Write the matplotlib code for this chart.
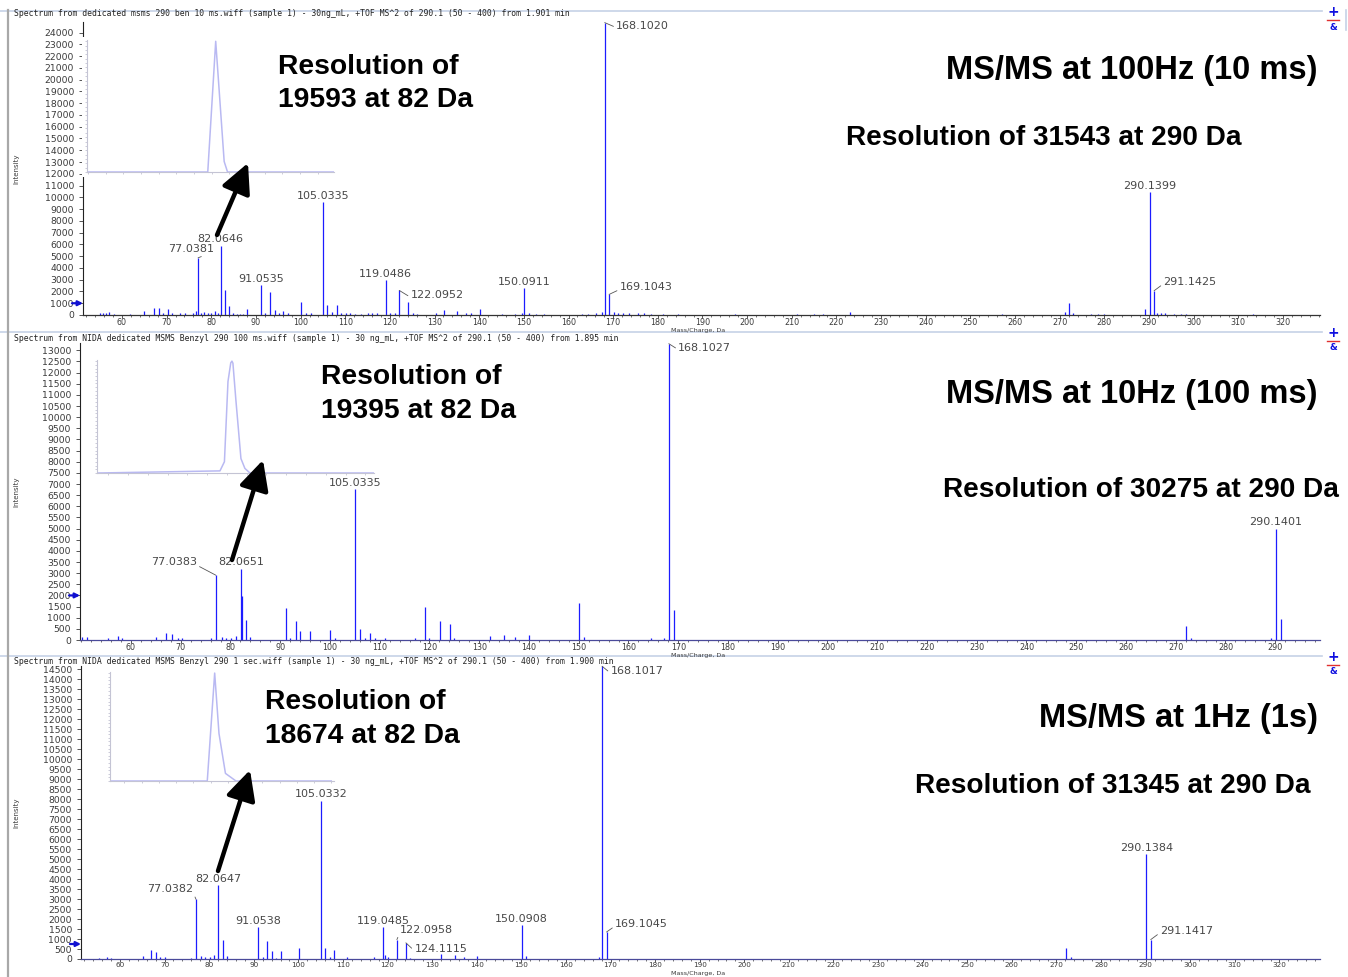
import matplotlib
matplotlib.use("Agg")
import numpy as np
import matplotlib.pyplot as plt
from matplotlib.lines import Line2D
from matplotlib.patches import Rectangle, FancyArrowPatch
from matplotlib.ticker import MultipleLocator

# ---- MS/MS at 100 Hz (10 ms) : m/z and intensity of each stick ----
mz_100hz = [51.0, 55.1, 55.8, 56.5, 57.1, 58.2, 61.8, 65.0, 67.1, 68.2, 69.1, 70.3, 71.1,
            73.1, 74.2, 75.8, 76.5, 77.0381, 77.7, 78.4, 79.3, 79.9, 80.9, 81.4, 82.0646,
            83.07, 84.07, 84.8, 85.8, 86.5, 87.1, 88.1, 91.0535, 92.0, 93.07, 94.2, 95.1,
            96.1, 97.1, 100.1, 101.2, 102.3, 105.0335, 106.0, 107.0, 108.1, 109.0, 110.1,
            111.0, 112.1, 113.5, 115.0, 116.1, 117.1, 119.0486, 120.0, 121.1, 122.0952,
            124.1, 125.1, 126.1, 130.4, 132.1, 135.0, 137.1, 138.1, 140.1, 145.1, 148.1,
            149.6, 150.0911, 151.1, 152.8, 154.5, 163.1, 164.4, 166.2, 167.5, 168.1020,
            169.1043, 170.1, 171.1, 172.1, 173.5, 175.5, 177.0, 178.4, 181.2, 184.5, 197.2,
            211.2, 214.9, 217.1, 223.1, 257.0, 271.3, 272.1, 272.9, 277.0, 278.5, 280.0,
            289.2, 290.1399, 291.1425, 291.8, 292.6, 293.5, 295.7, 297.1, 298.4, 313.3]
int_100hz = [300, 150, 150, 180, 280, 120, 120, 300, 560, 560, 200, 500, 150,
             200, 150, 200, 300, 4860, 200, 280, 200, 150, 300, 200, 5850,
             2090, 760, 150, 120, 120, 120, 480, 2540, 200, 1950, 400, 200,
             300, 200, 1100, 200, 200, 9580, 820, 280, 820, 200, 150,
             150, 120, 120, 150, 150, 200, 2940, 200, 200, 2090,
             1130, 150, 120, 200, 400, 340, 200, 200, 510, 120, 120,
             200, 2320, 200, 120, 120, 120, 120, 200, 280, 24850,
             1750, 250, 200, 200, 150, 150, 150, 120, 120, 120, 120,
             120, 100, 100, 230, 120, 280, 990, 200, 120, 120, 120,
             480, 10450, 2060, 200, 200, 150, 120, 120, 120, 120]
labels_100hz = [77.0381, 82.0646, 91.0535, 105.0335, 119.0486, 122.0952, 150.0911,
                168.1020, 169.1043, 290.1399, 291.1425]

# ---- MS/MS at 10 Hz (100 ms) ----
mz_10hz = [50.2, 51.1, 55.3, 57.3, 58.1, 65.1, 67.1, 68.2, 69.4, 70.2, 76.1, 77.0383,
           78.2, 79.1, 80.2, 81.2, 82.0651, 82.25, 83.07, 84.0, 91.06, 92.0, 93.07, 94.07,
           96.0, 100.1, 101.1, 105.0335, 106.04, 107.0, 108.05, 109.0, 111.0, 117.0,
           119.05, 120.0, 122.1, 124.1, 125.0, 132.1, 135.0, 137.1, 140.1, 150.09, 151.1,
           164.5, 167.2, 168.1027, 169.1, 272.1, 273.0, 289.1, 290.1401, 291.14]
int_10hz = [120, 120, 80, 180, 80, 130, 330, 280, 100, 80, 80, 2910,
            130, 80, 80, 180, 3180, 1990, 900, 150, 1420, 80, 850, 420,
            400, 460, 80, 6790, 490, 100, 300, 80, 100, 80,
            1460, 80, 850, 700, 80, 180, 240, 150, 220, 1670, 130,
            80, 100, 13300, 1340, 630, 80, 100, 4970, 940]
labels_10hz = [77.0383, 82.0651, 105.0335, 168.1027, 290.1401]

# ---- MS/MS at 1 Hz (1 s) ----
mz_1hz = [55.4, 57.1, 58.0, 65.1, 67.0, 68.0, 69.0, 70.1, 76.0, 77.0382, 78.1, 79.1,
          80.1, 81.1, 82.0647, 83.07, 84.1, 91.0538, 92.0, 93.07, 94.07, 95.0, 96.05,
          100.1, 105.0332, 106.04, 107.0, 108.05, 111.0, 117.0, 119.0485, 119.4, 120.0,
          122.0958, 124.1115, 125.0, 132.1, 135.1, 137.1, 140.1, 150.0908, 151.1, 167.4,
          168.1017, 169.1045, 272.1, 273.2, 290.1384, 291.1417]
int_1hz = [70, 100, 60, 160, 440, 350, 80, 80, 60, 2990, 150, 80,
           80, 200, 3680, 940, 150, 1600, 80, 890, 390, 60, 390,
           560, 7930, 560, 100, 460, 80, 80, 1600, 200, 100,
           970, 810, 60, 230, 200, 100, 150, 1710, 150, 80,
           14650, 1350, 560, 80, 5260, 970]
labels_1hz = [77.0382, 82.0647, 91.0538, 105.0332, 119.0485, 122.0958, 124.1115,
              150.0908, 168.1017, 169.1045, 290.1384, 291.1417]

# ---- profiles of the 82 Da peak shown in the insets ----
zoom_mz_100hz = [81.92, 82.0556, 82.0646, 82.0742, 82.0780, 82.20]
zoom_int_100hz = [0, 0, 5850, 470, 0, 0]
zoom_mz_10hz = [81.93, 82.0530, 82.0575, 82.0611, 82.0639, 82.0651, 82.0661, 82.0691,
                82.0742, 82.0782, 82.0833, 82.21]
zoom_int_10hz = [0, 60, 320, 2600, 3130, 3180, 3120, 2070, 410, 130, 0, 0]
zoom_mz_1hz = [81.945, 82.0561, 82.0647, 82.0697, 82.0772, 82.0894, 82.20]
zoom_int_1hz = [0, 0, 3680, 1620, 260, 0, 0]

headers = [
    "Spectrum from dedicated msms 290 ben 10 ms.wiff (sample 1) - 30ng_mL, +TOF MS^2 of 290.1 (50 - 400) from 1.901 min",
    "Spectrum from NIDA dedicated MSMS Benzyl 290 100 ms.wiff (sample 1) - 30 ng_mL, +TOF MS^2 of 290.1 (50 - 400) from 1.895 min",
    "Spectrum from NIDA dedicated MSMS Benzyl 290 1 sec.wiff (sample 1) - 30 ng_mL, +TOF MS^2 of 290.1 (50 - 400) from 1.900 min",
]
titles = ["MS/MS at 100Hz (10 ms)", "MS/MS at 10Hz (100 ms)", "MS/MS at 1Hz (1s)"]
res_82 = ["19593", "19395", "18674"]
res_290 = ["31543", "30275", "31345"]

# label placement per panel: (dx px, dy px, leader line)
label_pos = [
    {"77.0381": (-7, 4, True), "82.0646": (0, 2, False), "91.0535": (0, 1, False),
     "105.0335": (0, 1, False), "119.0486": (0, 1, False), "122.0952": (38, -10, True),
     "150.0911": (0, 1, False), "168.1020": (38, -8, True), "169.1043": (37, 2, True),
     "290.1399": (0, 1, False), "291.1425": (36, 4, True)},
    {"77.0383": (-42, 8, True), "82.0651": (0, 2, False), "105.0335": (0, 1, False),
     "168.1027": (36, -9, True), "290.1401": (0, 2, False)},
    {"77.0382": (-26, 5, True), "82.0647": (0, 1, False), "91.0538": (0, 1, False),
     "105.0332": (0, 2, False), "119.0485": (0, 1, False), "122.0958": (30, 5, True),
     "124.1115": (35, -11, True), "150.0908": (0, 1, False), "168.1017": (35, -10, True),
     "169.1045": (35, 3, True), "290.1384": (0, 1, False), "291.1417": (36, 4, True)},
]

W, H = 1348, 977
BLUE = "#1c1cff"
INK = "#3a3a3a"


def fx(x):
    return x / W


def fy(y):
    return 1 - y / H


def ftext(x, y, s, **kw):
    return fig.text(fx(x), fy(y), s, **kw)


def box(left, top, right, bottom):
    return [fx(left), fy(bottom), (right - left) / W, (bottom - top) / H]


fig = plt.figure(figsize=(W / 100, H / 100), dpi=100)
fig.patch.set_facecolor("white")

panels = [
    dict(mz=mz_100hz, it=int_100hz, lab=labels_100hz, frame=(83, 22, 1320, 315),
         xlim=(51.27, 328.3), ymax=24900, ystep=1000, ytop=24000, xtop=320, xl_y=331, xfs=5.8,
         zmz=zoom_mz_100hz, zit=zoom_int_100hz, ibox=(87, 40, 334, 172), ixlim=(81.9187, 82.1987),
         arrow=((217, 235), (248, 163)), lx=278, lb=(74, 107),
         tb=79, rx=846, rb=145, head_y=14, blue_mark=1000, bottom_col="#333333", top_y=11),
    dict(mz=mz_10hz, it=int_10hz, lab=labels_10hz, frame=(80, 343, 1320, 640),
         xlim=(49.75, 299.0), ymax=13330, ystep=500, ytop=13000, xtop=290, xl_y=656, xfs=5.8,
         zmz=zoom_mz_10hz, zit=zoom_int_10hz, ibox=(97, 360, 374, 473), ixlim=(81.9287, 82.2087),
         arrow=((232, 560), (263, 460)), lx=321, lb=(384, 418),
         tb=403, rx=943, rb=497, head_y=338, blue_mark=2000, bottom_col="#4a4a9a", top_y=332),
    dict(mz=mz_1hz, it=int_1hz, lab=labels_1hz, frame=(81, 666, 1320, 959),
         xlim=(51.26, 329.1), ymax=14660, ystep=500, ytop=14500, xtop=320, xl_y=973.5, xfs=5.2,
         zmz=zoom_mz_1hz, zit=zoom_int_1hz, ibox=(110, 672, 334, 781), ixlim=(81.9432, 82.2032),
         arrow=((218, 871), (250, 770)), lx=265, lb=(709, 743),
         tb=727, rx=915, rb=793, head_y=661, blue_mark=750, bottom_col="#4a4a9a", top_y=656),
]

for k, p in enumerate(panels):
    l, t, r, b = p["frame"]
    ax = fig.add_axes(box(l, t, r, b))
    ax.vlines(p["mz"], 0, p["it"], color=BLUE, lw=0.9)
    ax.set_xlim(*p["xlim"])
    ax.set_ylim(0, p["ymax"])
    ax.set_xticks(np.arange(60, p["xtop"] + 1, 10))
    ax.xaxis.set_minor_locator(MultipleLocator(2))
    ax.set_yticks(np.arange(0, p["ytop"] + 1, p["ystep"]))
    for side in ["top", "right"]:
        ax.spines[side].set_visible(False)
    ax.spines["left"].set_color("#222222")
    ax.spines["left"].set_linewidth(0.8)
    ax.spines["bottom"].set_color(p["bottom_col"])
    ax.spines["bottom"].set_linewidth(0.9)
    ax.tick_params(axis="y", direction="out", length=3, width=0.6, colors=INK,
                   pad=3.5, labelsize=6.7)
    ax.tick_params(axis="x", direction="out", length=2, width=0.6, colors=INK,
                   pad=0.3, labelsize=p["xfs"])
    ax.tick_params(axis="x", which="minor", length=1.3, width=0.5, colors=INK)
    ax.set_ylabel("Intensity", fontsize=5, color=INK)
    ax.yaxis.set_label_coords((19 - l) / (r - l), 0.5)
    ax.patch.set_alpha(0)

    peaks = dict(zip(p["mz"], p["it"]))
    for m in p["lab"]:
        txt = f"{m:.4f}"
        dx, dy, lead = label_pos[k][txt]
        kw = {}
        if lead:
            kw["arrowprops"] = dict(arrowstyle="-", color="#555555", lw=0.6, shrinkA=0, shrinkB=0,
                                    relpos=(0, 0.3) if dx > 0 else (1, 0.2))
        ax.annotate(txt, xy=(m, peaks[m]), xytext=(dx, dy), textcoords="offset pixels",
                    ha="center", va="bottom", fontsize=8, color="#484848", **kw)

    # small blue marker on the intensity axis
    ax.annotate("", xy=(0, p["blue_mark"]), xycoords=("axes fraction", "data"),
                xytext=(-11, 0), textcoords="offset pixels",
                arrowprops=dict(arrowstyle="-|>", color="#1010d0", lw=1.6, mutation_scale=7,
                                shrinkA=0, shrinkB=0))

    ftext(698, p["xl_y"], "Mass/Charge, Da", fontsize=4.6, color=INK, ha="center", va="center")
    ftext(14, p["head_y"], headers[k], fontsize=5.9, fontfamily="DejaVu Sans Mono",
          color="#222222", ha="left", va="center")

    # inset with the zoomed 82 Da peak
    il, itp, ir, ib = p["ibox"]
    if k == 0:
        fig.add_artist(Rectangle((fx(81.5), fy(ib + 5)), 6 / W, (ib + 5 - itp + 3) / H,
                                 transform=fig.transFigure, facecolor="white",
                                 edgecolor="none", zorder=1))
    iax = fig.add_axes(box(il, itp, ir, ib), zorder=2)
    iax.plot(p["zmz"], p["zit"], color="#b9b9f2", lw=1.1)
    iax.set_xlim(*p["ixlim"])
    apex = max(p["zit"])
    iax.set_ylim(0, apex * 1.01)
    iax.xaxis.set_major_locator(MultipleLocator(0.02))
    iax.yaxis.set_major_locator(MultipleLocator(apex / 30))
    iax.set_xticklabels([])
    iax.set_yticklabels([])
    for side in ["top", "right"]:
        iax.spines[side].set_visible(False)
    for side in ["left", "bottom"]:
        iax.spines[side].set_color("#c4c4d4")
        iax.spines[side].set_linewidth(0.8)
    iax.tick_params(axis="both", direction="out", length=1.5, width=0.6, colors="#c4c4d4")
    iax.set_facecolor("white")

    # black arrow from the 82 Da peak up to the inset
    (tx, ty), (hx, hy) = p["arrow"]
    fig.add_artist(FancyArrowPatch(
        (fx(tx), fy(ty)), (fx(hx), fy(hy)), transform=fig.transFigure,
        arrowstyle="-|>,head_length=0.9,head_width=0.45", mutation_scale=20,
        lw=3.2, color="black", shrinkA=0, shrinkB=0, zorder=5))

    big = dict(fontfamily="Liberation Sans", fontweight="bold", color="black", va="baseline")
    ftext(p["lx"], p["lb"][0], "Resolution of", fontsize=20.3, ha="left", **big)
    ftext(p["lx"], p["lb"][1], f"{res_82[k]} at 82 Da", fontsize=20.3, ha="left", **big)
    ftext(1318, p["tb"], titles[k], fontsize=23.5, ha="right", **big)
    ftext(p["rx"], p["rb"], f"Resolution of {res_290[k]} at 290 Da", fontsize=20.2, ha="left", **big)

    # window frame details
    fig.add_artist(Line2D([fx(0), fx(1322)], [fy(p["top_y"]), fy(p["top_y"])],
                          color="#c6d2e6", lw=1.2))
    ic = p["top_y"] + 1
    ftext(1333, ic, "+", color="#1010e0", fontsize=10, fontweight="bold", ha="center", va="center")
    fig.add_artist(Line2D([fx(1327), fx(1339)], [fy(ic + 8), fy(ic + 8)], color="#e03030", lw=1.0))
    ftext(1333, ic + 15, "&", color="#1010e0", fontsize=6.5, fontweight="bold", ha="center", va="center")

fig.add_artist(Line2D([fx(8), fx(8)], [fy(10), fy(977)], color="#a8a8a8", lw=1.6))
fig.add_artist(Line2D([fx(1346), fx(1346)], [fy(10), fy(30)], color="#c6d2e6", lw=1.2))

fig.savefig("out.png", dpi=100)
